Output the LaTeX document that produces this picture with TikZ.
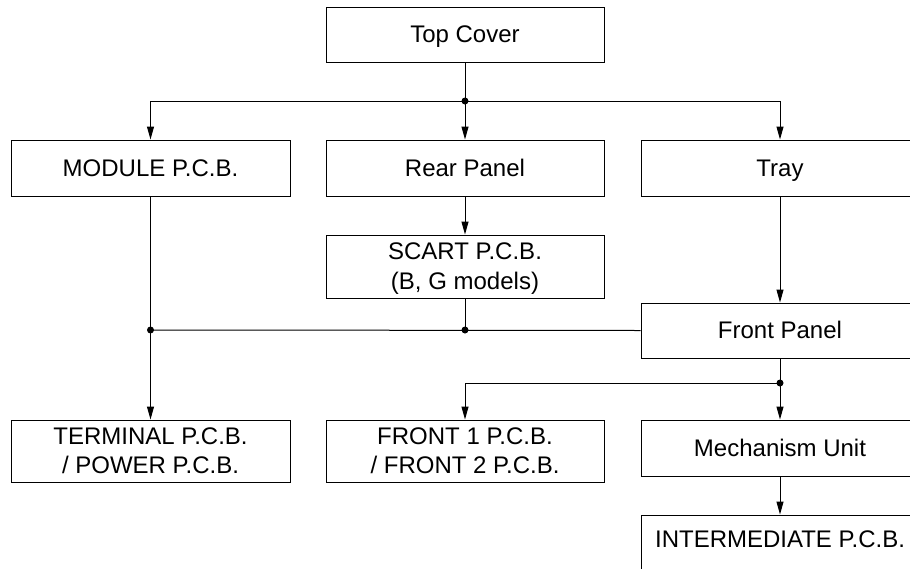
\documentclass[tikz,border=0pt]{standalone}
\usepackage{fontspec}
\setmainfont{Liberation Sans}
\usetikzlibrary{arrows.meta}
\begin{document}
\begin{tikzpicture}[x=1pt,y=-1pt,
  every node/.style={font=\fontsize{24}{29.5}\selectfont},
  blk/.style={draw, line width=1pt, rectangle, inner sep=0pt, align=center,
    minimum width=278pt, text height=17pt, text depth=1pt},
  twoline/.style={text height=46.5pt},
  link/.style={line width=1pt},
  arr/.style={line width=1pt, -{Triangle[length=13pt,width=7pt]}},
  dot/.style={circle, fill, inner sep=0pt, minimum size=7pt}]
\useasboundingbox (0,0) rectangle (910,568);
\clip (0,0) rectangle (910,568);

% boxes
\node[blk, minimum height=55pt] (top) at (465,34.5) {Top Cover};
\node[blk, minimum height=56pt, minimum width=279pt] (module) at (150.5,168) {MODULE P.C.B.};
\node[blk, minimum height=56pt] (rear) at (465,168) {Rear Panel};
\node[blk, minimum height=56pt] (tray) at (780,168) {Tray};
\node[blk, twoline, minimum height=63pt] (scart) at (465,266.5) {SCART P.C.B.\\(B, G models)};
\node[blk, minimum height=55pt] (front) at (780,330.5) {Front Panel};
\node[blk, twoline, minimum height=62pt, minimum width=279pt] (terminal) at (150.5,451) {TERMINAL P.C.B.\\/ POWER P.C.B.};
\node[blk, twoline, minimum height=62pt] (fronts) at (465,451) {FRONT 1 P.C.B.\\/ FRONT 2 P.C.B.};
\node[blk, minimum height=56pt] (mech) at (780,448) {Mechanism Unit};
\node[blk, minimum height=60pt, text depth=13pt] (inter) at (780,545) {INTERMEDIATE P.C.B.};

% junction points
\coordinate (jt) at (465,101);
\coordinate (jtl) at (150.5,101);
\coordinate (jtr) at (780,101);
\coordinate (jml) at (150.5,330);
\coordinate (jmm) at (465,330);
\coordinate (jf) at (780,383);
\coordinate (jfl) at (465,383);

% top fan-out
\draw[link] (top.south) -- (jt);
\draw[link] (jtl) -- (jtr);
\draw[arr] (jtl) -- (module.north);
\draw[arr] (jt) -- (rear.north);
\draw[arr] (jtr) -- (tray.north);
\node[dot] at (jt) {};

% middle
\draw[arr] (rear.south) -- (scart.north);
\draw[arr] (tray.south) -- (front.north);
\draw[arr] (module.south) -- (terminal.north);
\draw[link] (scart.south) -- (jmm);
\draw[link] (jml) -- (front.west);
\node[dot] at (jml) {};
\node[dot] at (jmm) {};

% lower
\draw[arr] (front.south) -- (mech.north);
\draw[link] (jfl) -- (jf);
\draw[arr] (jfl) -- (fronts.north);
\node[dot] at (jf) {};
\draw[arr] (mech.south) -- (inter.north);
\end{tikzpicture}
\end{document}
